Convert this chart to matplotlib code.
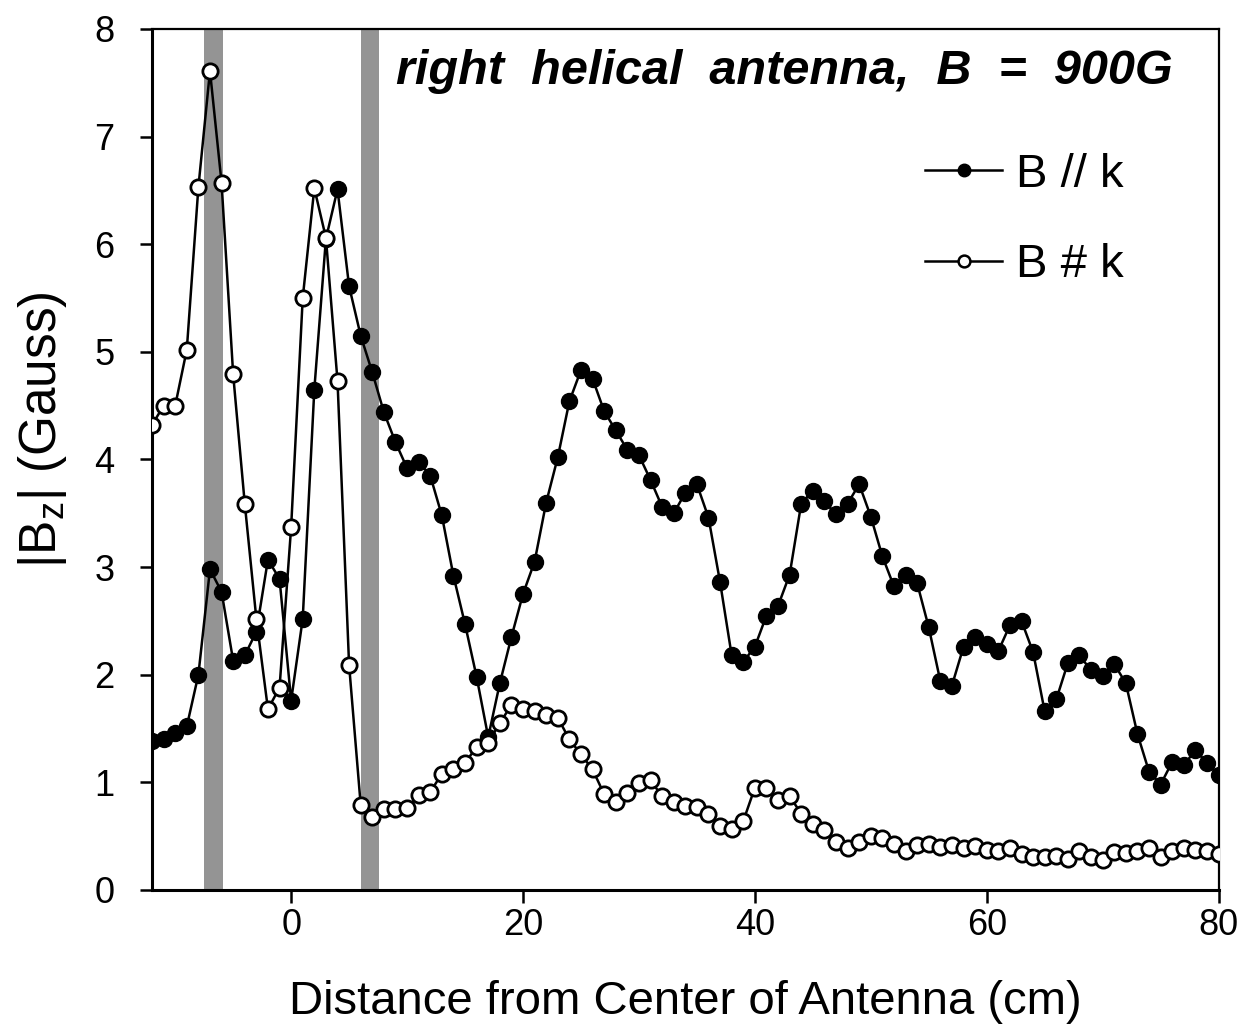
import matplotlib

matplotlib.use("Agg")
import matplotlib.pyplot as plt
import numpy as np
from matplotlib.lines import Line2D

plt.rcParams["font.family"] = ["Liberation Sans", "DejaVu Sans"]

# distance from antenna centre (cm), one point per cm
dist = np.arange(-12, 81)

# B // k (filled markers)
b_par = [
    1.38, 1.40, 1.46, 1.52, 2.00, 2.98, 2.77, 2.13, 2.18, 2.40, 3.07, 2.89,
    1.76, 2.52, 4.65, 6.05, 6.51, 5.61, 5.15, 4.81, 4.44, 4.16, 3.92, 3.98,
    3.85, 3.48, 2.92, 2.47, 1.98, 1.42, 1.92, 2.35, 2.75, 3.05, 3.60, 4.02,
    4.54, 4.83, 4.75, 4.45, 4.27, 4.09, 4.04, 3.81, 3.56, 3.50, 3.69, 3.77,
    3.46, 2.86, 2.18, 2.12, 2.26, 2.55, 2.64, 2.93, 3.59, 3.71, 3.61, 3.49,
    3.59, 3.77, 3.47, 3.10, 2.82, 2.93, 2.85, 2.44, 1.94, 1.90, 2.26, 2.35,
    2.29, 2.22, 2.46, 2.50, 2.21, 1.66, 1.77, 2.11, 2.18, 2.04, 1.99, 2.10,
    1.92, 1.45, 1.10, 0.98, 1.19, 1.16, 1.30, 1.18, 1.07,
]

# B # k (open markers)
b_perp = [
    4.32, 4.50, 4.50, 5.02, 6.53, 7.61, 6.57, 4.79, 3.59, 2.52, 1.68, 1.88,
    3.37, 5.50, 6.52, 6.06, 4.73, 2.09, 0.79, 0.68, 0.75, 0.75, 0.76, 0.88,
    0.91, 1.08, 1.12, 1.18, 1.33, 1.37, 1.55, 1.72, 1.68, 1.66, 1.63, 1.60,
    1.40, 1.26, 1.12, 0.89, 0.82, 0.90, 0.99, 1.02, 0.87, 0.82, 0.78, 0.77,
    0.71, 0.59, 0.57, 0.64, 0.95, 0.95, 0.84, 0.87, 0.71, 0.61, 0.56, 0.45,
    0.39, 0.45, 0.50, 0.48, 0.43, 0.36, 0.42, 0.43, 0.40, 0.42, 0.39, 0.41,
    0.37, 0.36, 0.39, 0.33, 0.31, 0.31, 0.32, 0.29, 0.36, 0.31, 0.28, 0.35,
    0.34, 0.36, 0.39, 0.31, 0.36, 0.39, 0.37, 0.36, 0.33,
]

# antenna ring positions (cm)
bands = [(-7.5, -5.9), (6.0, 7.6)]

fig = plt.figure(figsize=(12.46, 10.27), dpi=100)
ax = fig.add_axes([0.122, 0.1334, 0.856, 0.8384])

for lo, hi in bands:
    ax.axvspan(lo, hi, color="0.58", lw=0, zorder=1)

ax.plot(dist, b_par, color="k", lw=1.8, marker="o", ms=11.5,
        mfc="k", mec="k", zorder=3)
ax.plot(dist, b_perp, color="k", lw=1.8, marker="o", ms=11,
        mfc="white", mec="k", mew=2, zorder=4)

ax.set_xlim(-12, 80)
ax.set_ylim(0, 8)
ax.set_xticks([0, 20, 40, 60, 80])
ax.set_yticks(range(0, 9))
ax.tick_params(direction="out", length=9, width=1.8, labelsize=26)
ax.tick_params(axis="y", pad=18)
ax.tick_params(axis="x", pad=4)
for side in ["left", "bottom"]:
    ax.spines[side].set_linewidth(2.2)
for side in ["top", "right"]:
    ax.spines[side].set_linewidth(1.6)

ax.set_xlabel("Distance from Center of Antenna (cm)", fontsize=34)
ax.xaxis.set_label_coords(0.5, -0.105)
ax.set_ylabel(r"|B$_\mathregular{z}$| (Gauss)", fontsize=37, va="center")
ax.yaxis.set_label_coords(-0.103, 0.534)

ax.text(0.957, 0.951, "right  helical  antenna,  B  =  900G", transform=ax.transAxes,
        ha="right", va="center", fontsize=35, fontweight="bold", fontstyle="italic")

handles = [
    Line2D([], [], color="k", lw=1.8, marker="o", ms=9, mfc="k"),
    Line2D([], [], color="k", lw=1.8, marker="o", ms=8.5, mfc="white", mew=1.8),
]
ax.legend(handles, ["B // k", "B # k"], loc="upper left",
          bbox_to_anchor=(0.725, 0.856), frameon=False, fontsize=34,
          handlelength=1.63, handletextpad=0.3, labelspacing=0.98,
          borderaxespad=0, borderpad=0)

fig.savefig("out.png", dpi=100)
